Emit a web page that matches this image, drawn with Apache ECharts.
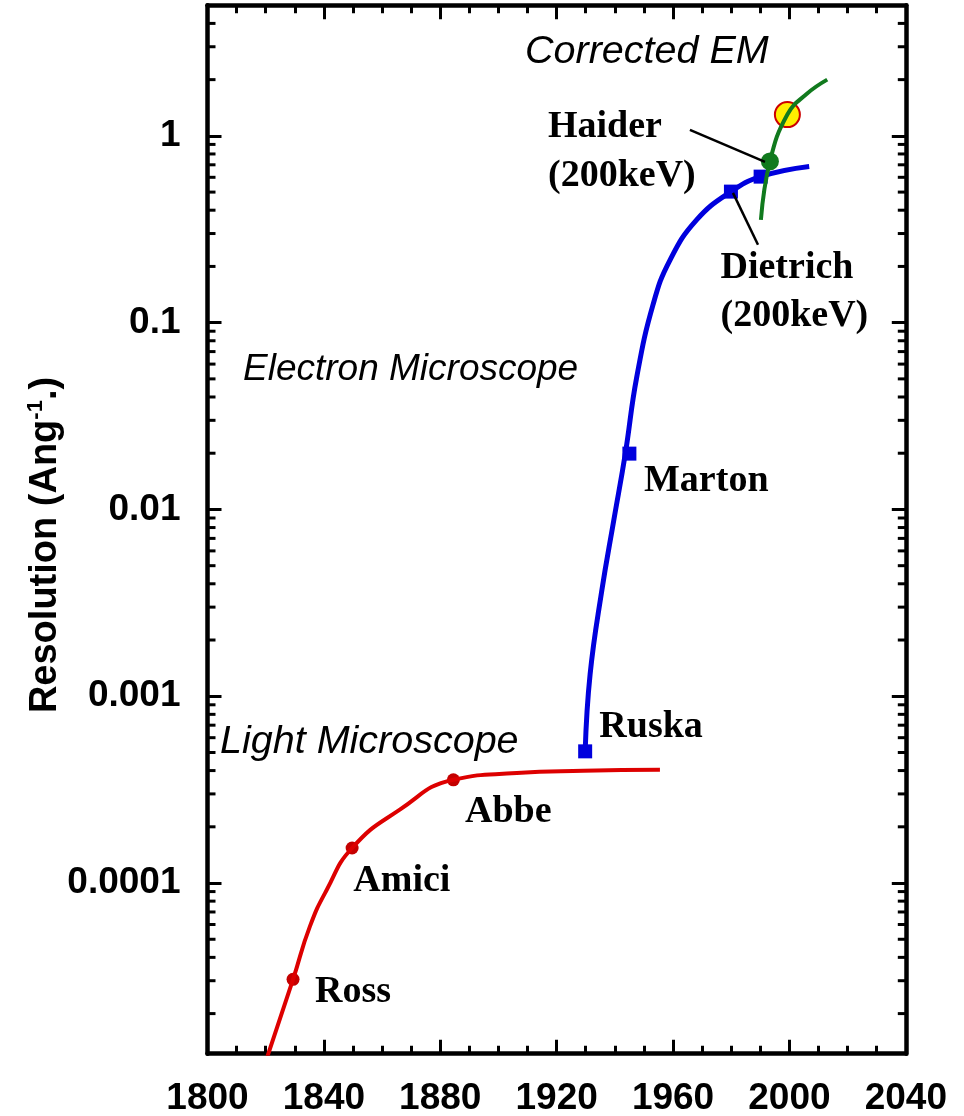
<!DOCTYPE html>
<html><head><meta charset="utf-8">
<script src="https://cdn.jsdelivr.net/npm/echarts@6/dist/echarts.min.js"></script>
<style>html,body{margin:0;padding:0;background:#fff}#c{width:964px;height:1116px}</style>
</head><body><div id="c"></div>
<script>
// ---------------- data ----------------
const xMin = 1800, xMax = 2040, xInterval = 40;
const yMin = 1.22e-5, yMax = 5;
const yTickLabels = ['0.0001', '0.001', '0.01', '0.1', '1'];   // 1e-4 .. 1e0
const yMinorTicks = [2e-5,3e-5,4e-5,5e-5,6e-5,7e-5,8e-5,9e-5,
  2e-4,3e-4,4e-4,5e-4,6e-4,7e-4,8e-4,9e-4,
  2e-3,3e-3,4e-3,5e-3,6e-3,7e-3,8e-3,9e-3,
  0.02,0.03,0.04,0.05,0.06,0.07,0.08,0.09,
  0.2,0.3,0.4,0.5,0.6,0.7,0.8,0.9,
  2,3,4];

// Light microscope curve
const lightYears  = [1820.6, 1829.4, 1835.2, 1841.0, 1849.7, 1866.1, 1884.5, 1906.3, 1929.2, 1955.5];
const lightValues = [1.18e-5, 3.05e-5, 5.86e-5, 9.2e-5, 1.54e-4, 2.47e-4, 3.57e-4, 3.88e-4, 3.99e-4, 4.04e-4];
// Electron microscope curve
const emYears  = [1929.8, 1931.5, 1935.5, 1939.6, 1943.6, 1947.5, 1953.2, 1959.0, 1968.1, 1979.9, 1990.1, 2006.8];
const emValues = [5.07e-4, 1.31e-3, 3.66e-3, 8.68e-3, 0.0199, 0.0509, 0.126, 0.217, 0.355, 0.503, 0.605, 0.685];
// Corrected EM curve
const cemYears  = [1990.2, 1993.3, 1999.3, 2006.0, 2013.0];
const cemValues = [0.355, 0.73, 1.3, 1.68, 2.0];

// Markers
const lightMarkYears  = [1829.4, 1849.7, 1884.5];          // Ross, Amici, Abbe
const lightMarkValues = [3.05e-5, 1.54e-4, 3.57e-4];
const emMarkYears  = [1929.8, 1945.0, 1979.9, 1990.1];     // Ruska, Marton, Dietrich, ...
const emMarkValues = [5.07e-4, 0.0199, 0.503, 0.605];
const haiderYear = [1993.3], haiderValue = [0.73];
const currentYear = [1999.3], currentValue = [1.3];

// Leader lines (data coords)
const haiderLeaderYears = [1965.8, 1991.6], haiderLeaderValues = [1.077, 0.726];
const dietrichLeaderYears = [1980.6, 1989.2], dietrichLeaderValues = [0.495, 0.261];

// ---------------- chart ----------------
const zip = (a, b) => a.map((v, i) => [v, b[i]]);
const chart = echarts.init(document.getElementById('c'), null, {renderer: 'canvas'});
const AX = '#000';
const labelFont = {fontFamily: '"Liberation Sans", Arial, sans-serif', fontWeight: 'bold', fontSize: 37, color: '#000'};
const serifBold = 'bold 38px "Liberation Serif", "Times New Roman", serif';
const sansItalic = 'italic 37px "Liberation Sans", Arial, sans-serif';
const sansItalicL = 'italic 39.5px "Liberation Sans", Arial, sans-serif';

function yFmt(v) {
  const l = Math.log10(v), e = Math.round(l);
  if (Math.abs(l - e) > 1e-6) return '';
  return yTickLabels[e + 4] || '';
}

function txt(text, x, y, font) {
  return {type: 'text', x: x, y: y, silent: true,
    style: {text: text, font: font, fill: '#000', align: 'left', verticalAlign: 'middle'}};
}

const option = {
  animation: false,
  backgroundColor: '#fff',
  grid: {left: 207.5, right: 58.2, top: 5.3, bottom: 62.3, containLabel: false, outerBoundsMode: 'none'},
  xAxis: [{
    type: 'value', min: xMin, max: xMax, interval: xInterval, position: 'bottom',
    axisLine: {show: true, lineStyle: {color: AX, width: 4.5}},
    axisTick: {show: true, inside: true, length: 14, lineStyle: {color: AX, width: 3}},
    minorTick: {show: true, splitNumber: 4, length: 8, lineStyle: {color: AX, width: 3}},
    splitLine: {show: false}, minorSplitLine: {show: false},
    axisLabel: Object.assign({margin: 27, formatter: v => String(v), showMinLabel: true, showMaxLabel: true}, labelFont)
  }, {
    type: 'value', min: xMin, max: xMax, interval: xInterval, position: 'top',
    axisLine: {show: true, lineStyle: {color: AX, width: 4.5}},
    axisTick: {show: true, inside: true, length: 14, lineStyle: {color: AX, width: 3}},
    minorTick: {show: true, splitNumber: 4, length: 8, lineStyle: {color: AX, width: 3}},
    splitLine: {show: false}, axisLabel: {show: false}
  }],
  yAxis: [{
    type: 'log', logBase: 10, min: yMin, max: yMax, position: 'left',
    axisLine: {show: true, lineStyle: {color: AX, width: 4.5}},
    axisTick: {show: true, inside: true, length: 14, lineStyle: {color: AX, width: 3}},
    splitLine: {show: false}, minorTick: {show: false},
    axisLabel: Object.assign({margin: 27, formatter: yFmt, showMinLabel: false, showMaxLabel: false}, labelFont)
  }, {
    type: 'log', logBase: 10, min: yMin, max: yMax, position: 'right',
    axisLine: {show: true, lineStyle: {color: AX, width: 4.5}},
    axisTick: {show: true, inside: true, length: 14, lineStyle: {color: AX, width: 3}},
    splitLine: {show: false}, minorTick: {show: false}, axisLabel: {show: false}
  }],
  series: [
    {type: 'custom', name: 'yMinorTicks', silent: true, xAxisIndex: 0, yAxisIndex: 0,
      data: yMinorTicks.map(v => [xMin, v]), encode: {x: 0, y: 1},
      renderItem: (params, api) => {
        const cs = params.coordSys;
        const y = api.coord([xMin, api.value(1)])[1];
        const st = {stroke: AX, lineWidth: 3};
        return {type: 'group', children: [
          {type: 'line', shape: {x1: cs.x, y1: y, x2: cs.x + 8, y2: y}, style: st},
          {type: 'line', shape: {x1: cs.x + cs.width - 8, y1: y, x2: cs.x + cs.width, y2: y}, style: st}
        ]};
      }},
    {type: 'line', name: 'Light Microscope', data: zip(lightYears, lightValues), smooth: 0.5,
      showSymbol: false, symbol: 'none', lineStyle: {color: '#dd0000', width: 4}, silent: true, clip: true},
    {type: 'line', name: 'Electron Microscope', data: zip(emYears, emValues), smooth: 0.45,
      showSymbol: false, symbol: 'none', lineStyle: {color: '#0000dd', width: 5}, silent: true, clip: true},
    {type: 'line', name: 'Corrected EM', data: zip(cemYears, cemValues), smooth: 0.45,
      showSymbol: false, symbol: 'none', lineStyle: {color: '#117a1e', width: 4}, silent: true, clip: true},
    {type: 'line', name: 'Haider leader', data: zip(haiderLeaderYears, haiderLeaderValues),
      showSymbol: false, symbol: 'none', lineStyle: {color: '#000', width: 2.5}, silent: true},
    {type: 'line', name: 'Dietrich leader', data: zip(dietrichLeaderYears, dietrichLeaderValues),
      showSymbol: false, symbol: 'none', lineStyle: {color: '#000', width: 2.5}, silent: true},
    {type: 'scatter', name: 'light marks', data: zip(lightMarkYears, lightMarkValues), symbol: 'circle', symbolSize: 13,
      itemStyle: {color: '#c40000', opacity: 1}, silent: true},
    {type: 'scatter', name: 'em marks', data: zip(emMarkYears, emMarkValues), symbol: 'rect', symbolSize: 14,
      itemStyle: {color: '#0000dd', opacity: 1}, silent: true},
    {type: 'scatter', name: 'haider', data: zip(haiderYear, haiderValue), symbol: 'circle', symbolSize: 18,
      itemStyle: {color: '#117a1e', opacity: 1}, silent: true},
    {type: 'scatter', name: 'current', data: zip(currentYear, currentValue), symbol: 'circle', symbolSize: 25,
      itemStyle: {color: '#ffee00', borderColor: '#cc0000', borderWidth: 2, opacity: 1}, silent: true}
  ],
  graphic: [
    txt('Corrected EM', 525, 52.5, sansItalicL),
    txt('Haider', 548, 127.5, serifBold),
    txt('(200keV)', 548, 176.5, serifBold),
    txt('Dietrich', 720.5, 268.3, serifBold),
    txt('(200keV)', 720.5, 316, serifBold),
    txt('Electron Microscope', 243, 370, sansItalic),
    txt('Marton', 644, 481, serifBold),
    txt('Ruska', 599.3, 726.7, serifBold),
    txt('Light Microscope', 220, 742, sansItalicL),
    txt('Abbe', 465, 812.5, serifBold),
    txt('Amici', 353.3, 881, serifBold),
    txt('Ross', 315, 992.5, serifBold),
    {type: 'text', x: 46, y: 545, rotation: Math.PI / 2, silent: true,
      style: {text: 'Resolution (Ang{sup|-1}.)', font: 'bold 38px "Liberation Sans", Arial, sans-serif', fill: '#000',
        align: 'center', verticalAlign: 'middle',
        rich: {sup: {fontSize: 22, fontWeight: 'bold', fontFamily: '"Liberation Sans", Arial, sans-serif', fill: '#000', padding: [0, 0, 20, 0]}}}}
  ]
};
chart.setOption(option);
</script>
</body></html>
